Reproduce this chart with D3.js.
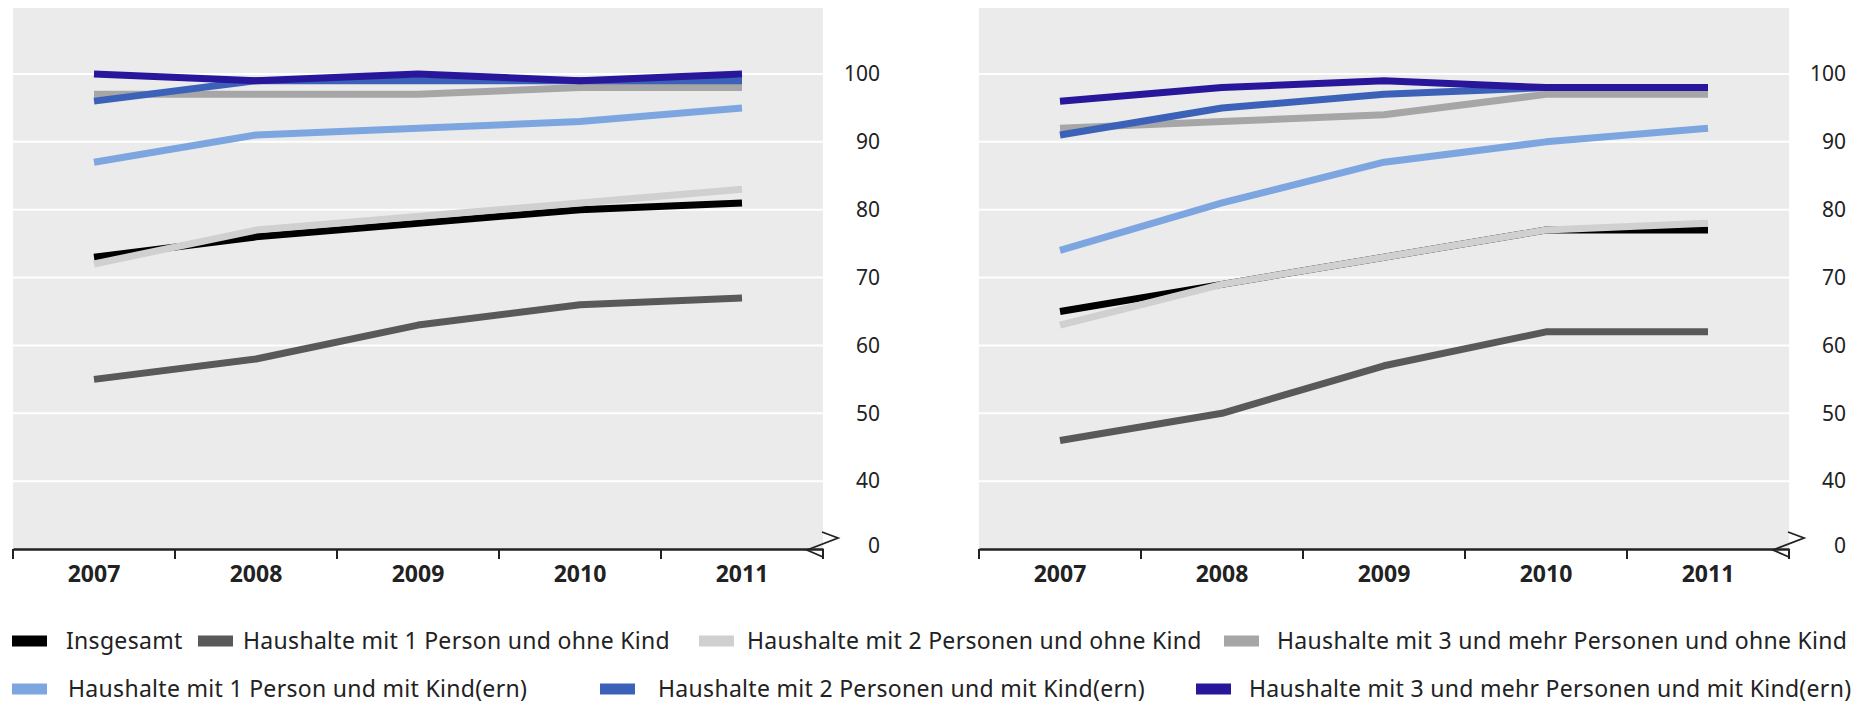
<!DOCTYPE html>
<html>
<head>
<meta charset="utf-8">
<script src="https://cdn.jsdelivr.net/npm/d3@7"></script>
<style>
  body { margin: 0; background: #fff; }
  text { font-family: "Noto Sans", "Open Sans", sans-serif; fill: #222; }
</style>
</head>
<body>
<script>
const years = ["2007", "2008", "2009", "2010", "2011"];

const seriesNames = [
  "Insgesamt",
  "Haushalte mit 1 Person und ohne Kind",
  "Haushalte mit 2 Personen und ohne Kind",
  "Haushalte mit 3 und mehr Personen und ohne Kind",
  "Haushalte mit 1 Person und mit Kind(ern)",
  "Haushalte mit 2 Personen und mit Kind(ern)",
  "Haushalte mit 3 und mehr Personen und mit Kind(ern)"
];

const seriesColors = ["#000000", "#595959", "#d0d0d0", "#a6a6a6", "#7da6e0", "#3b62b8", "#28179a"];

// left panel
const leftValues = [
  [73, 76, 78, 80, 81],
  [55, 58, 63, 66, 67],
  [72, 77, 79, 81, 83],
  [97, 97, 97, 98, 98],
  [87, 91, 92, 93, 95],
  [96, 99, 99, 99, 99],
  [100, 99, 100, 99, 100]
];

// right panel
const rightValues = [
  [65, 69, 73, 77, 77],
  [46, 50, 57, 62, 62],
  [63, 69, 73, 77, 78],
  [92, 93, 94, 97, 97],
  [74, 81, 87, 90, 92],
  [91, 95, 97, 98, 98],
  [96, 98, 99, 98, 98]
];

const yTicks = [40, 50, 60, 70, 80, 90, 100];
const baseLabel = "0";

const W = 1866, H = 703;
const plotTop = 8, plotBottom = 549;
const panels = [
  { x0: 13, x1: 823, values: leftValues },
  { x0: 979, x1: 1789, values: rightValues }
];

const svg = d3.select("body")
  .append("svg")
  .attr("width", W)
  .attr("height", H);

// broken axis: everything below 40 is squeezed into one step, labelled 0
const y = d3.scaleLinear()
  .domain([30, 100])
  .range([plotBottom, 74]);

panels.forEach(p => {
  const g = svg.append("g");

  const x = d3.scaleBand()
    .domain(years)
    .range([p.x0, p.x1]);

  g.append("rect")
    .attr("x", p.x0)
    .attr("y", plotTop)
    .attr("width", p.x1 - p.x0)
    .attr("height", plotBottom - plotTop)
    .attr("fill", "#ebebeb");

  g.selectAll(".grid")
    .data(yTicks)
    .enter()
    .append("line")
    .attr("x1", p.x0)
    .attr("x2", p.x1)
    .attr("y1", d => y(d))
    .attr("y2", d => y(d))
    .attr("stroke", "#fff")
    .attr("stroke-width", 2);

  const line = d3.line()
    .x((d, i) => x(years[i]) + x.bandwidth() / 2)
    .y(d => y(d));

  g.selectAll(".series")
    .data(p.values)
    .enter()
    .append("path")
    .attr("d", line)
    .attr("fill", "none")
    .attr("stroke", (d, i) => seriesColors[i])
    .attr("stroke-width", 7)
    .attr("stroke-linejoin", "round");

  // x axis
  const xAxis = g.append("g")
    .attr("transform", `translate(0, ${plotBottom})`)
    .call(d3.axisBottom(x).tickSize(0).tickPadding(17));
  xAxis.select(".domain").attr("stroke", "#222").attr("stroke-width", 2.5);
  xAxis.selectAll("text")
    .style("font-family", "'Noto Sans', sans-serif")
    .style("font-size", "23px")
    .style("font-weight", "bold")
    .attr("fill", "#1a1a1a");

  const bounds = years.map(d => x(d)).concat([p.x1]);
  g.selectAll(".xtick")
    .data(bounds)
    .enter()
    .append("line")
    .attr("x1", d => d)
    .attr("x2", d => d)
    .attr("y1", plotBottom)
    .attr("y2", plotBottom + 10)
    .attr("stroke", "#222")
    .attr("stroke-width", 2);

  // axis break mark
  g.append("path")
    .attr("d", `M${p.x1 - 1},${plotBottom - 17} L${p.x1 + 15},${plotBottom - 11} L${p.x1 - 16},${plotBottom + 1} L${p.x1},${plotBottom + 8}`)
    .attr("fill", "none")
    .attr("stroke", "#222")
    .attr("stroke-width", 1.8);

  // y labels on the right
  g.selectAll(".ylab")
    .data(yTicks)
    .enter()
    .append("text")
    .attr("x", p.x1 + 57)
    .attr("y", d => y(d))
    .attr("dy", "0.35em")
    .attr("text-anchor", "end")
    .style("font-size", "21px")
    .text(d => d);

  g.append("text")
    .attr("x", p.x1 + 57)
    .attr("y", plotBottom - 3)
    .attr("dy", "0.35em")
    .attr("text-anchor", "end")
    .style("font-size", "21px")
    .text(baseLabel);
});

// legend, two rows
const legendRows = [[0, 1, 2, 3], [4, 5, 6]];
const legendX = [[[12, 66], [198, 243], [699, 747], [1224, 1277]],
                 [[12, 68], [600, 658], [1196, 1249]]];
const legendY = [641, 689];

legendRows.forEach((row, r) => {
  row.forEach((s, k) => {
    const [sx, tx] = legendX[r][k];
    svg.append("rect")
      .attr("x", sx)
      .attr("y", legendY[r] - 5.5)
      .attr("width", 35)
      .attr("height", 11)
      .attr("fill", seriesColors[s]);
    svg.append("text")
      .attr("x", tx)
      .attr("y", legendY[r])
      .attr("dy", "0.35em")
      .style("font-size", "23px")
      .style("letter-spacing", "0.3px")
      .text(seriesNames[s]);
  });
});
</script>
</body>
</html>
